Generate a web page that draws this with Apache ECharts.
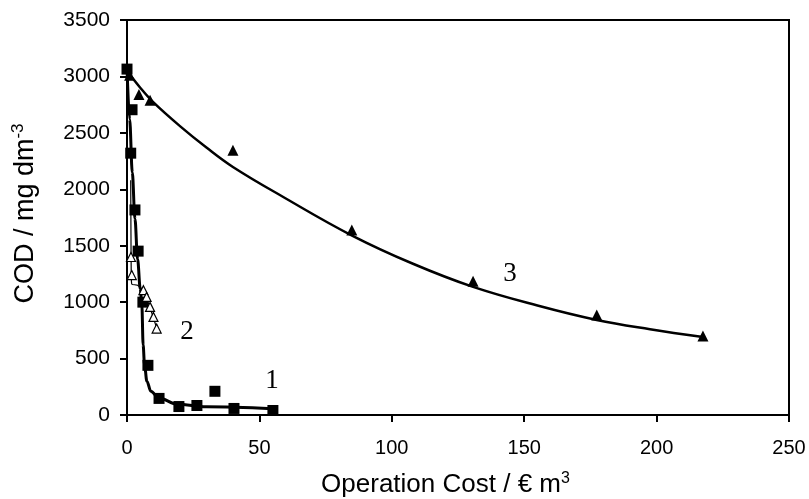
<!DOCTYPE html>
<html>
<head>
<meta charset="utf-8">
<script src="https://cdn.jsdelivr.net/npm/echarts@6/dist/echarts.min.js"></script>
<style>
html,body{margin:0;padding:0;background:#fff;}
#c{width:809px;height:499px;}
</style>
</head>
<body>
<div id="c"></div>
<script>
// Axis settings
const xTicks = [0, 50, 100, 150, 200, 250];
const yTicks = [0, 500, 1000, 1500, 2000, 2500, 3000, 3500];

// Series 1 (filled squares) measured points
const s1Points = [[0, 3065], [1.9, 2705], [1.4, 2320], [3.0, 1817], [4.2, 1452], [6.0, 1000], [7.9, 440], [12.1, 147], [19.6, 75], [26.4, 84], [33.2, 210], [40.4, 58], [55.1, 40]];
// Series 1 fitted curve
const s1Curve = [[0, 3075], [1, 2620], [2, 2150], [3, 1740], [4, 1380], [5, 1120], [5.6, 980], [6.1, 620], [6.6, 450], [7.5, 300], [9, 210], [12, 150], [19, 95], [30, 72], [55, 55]];

// Series 2 (open triangles) measured points
const s2Points = [[1.5, 1400], [1.8, 1240], [6.2, 1106], [7.4, 1046], [8.7, 958], [10.0, 869], [11.2, 766]];
// Series 2 fitted curve
const s2Curve = [[1.4, 2080], [1.5, 1600], [1.6, 1250], [1.8, 1160], [4, 1150], [6.2, 1100], [8.7, 950], [11.2, 770]];

// Series 3 (filled triangles) measured points
const s3Points = [[1, 3010], [4.5, 2840], [8.7, 2790], [40.0, 2345], [84.9, 1640], [130.7, 1185], [177.4, 885], [217.5, 700]];
// Series 3 fitted curve
const s3Curve = [[0, 3050], [5, 2900], [10, 2770], [20, 2560], [30, 2370], [40, 2198], [59, 1932], [85, 1590], [108, 1340], [130.7, 1135], [155, 970], [177.4, 842], [197.5, 760], [217.5, 691]];

// Curve labels
const curveLabels = [[54.8, 300, '1'], [22.7, 740, '2'], [144.6, 1250, '3']];

const chart = echarts.init(document.getElementById('c'));
const FONT = 'Liberation Sans, Arial, sans-serif';
chart.setOption({
  animation: false,
  backgroundColor: '#fff',
  grid: {left: 127, right: 20, top: 20, bottom: 84, outerBoundsMode: 'none', containLabel: false, show: true, borderColor: '#000', borderWidth: 2, backgroundColor: 'transparent'},
  xAxis: {
    type: 'value', min: xTicks[0], max: xTicks[xTicks.length - 1], interval: 50,
    axisLine: {show: true, lineStyle: {color: '#000', width: 2}},
    axisTick: {show: true, inside: false, length: 7, lineStyle: {color: '#000', width: 2}},
    splitLine: {show: false},
    axisLabel: {color: '#000', fontFamily: FONT, fontSize: 20, margin: 23, formatter: v => String(v)},
    name: 'Operation Cost / € m{sup|3}',
    nameLocation: 'middle', nameGap: 56,
    nameTextStyle: {color: '#000', fontFamily: FONT, fontSize: 26, padding: [0, 25, 0, 0],
      rich: {sup: {fontSize: 16, padding: [0, 0, 12, 0], fontFamily: FONT, color: '#000'}}}
  },
  yAxis: {
    type: 'value', min: yTicks[0], max: yTicks[yTicks.length - 1], interval: 500,
    axisLine: {show: true, lineStyle: {color: '#000', width: 2}},
    axisTick: {show: true, inside: false, length: 7, lineStyle: {color: '#000', width: 2}},
    splitLine: {show: false},
    axisLabel: {color: '#000', fontFamily: FONT, fontSize: 21, margin: 17, formatter: v => String(v)},
    name: 'COD / mg dm{sup|-3}',
    nameLocation: 'middle', nameRotate: 90, nameGap: 86,
    nameTextStyle: {color: '#000', fontFamily: FONT, fontSize: 27, padding: [0, 0, 0, 8],
      rich: {sup: {fontSize: 17, padding: [0, 0, 14, 0], fontFamily: FONT, color: '#000'}}}
  },
  series: [
    {type: 'line', data: s1Curve, smooth: 0.35, smoothMonotone: 'x', showSymbol: false, symbol: 'none', lineStyle: {color: '#000', width: 3}, z: 2},
    {type: 'scatter', data: s1Points, symbol: 'rect', symbolSize: 11, itemStyle: {color: '#000', opacity: 1}, z: 3},
    {type: 'line', data: s2Curve, smooth: 0.3, showSymbol: false, symbol: 'none', lineStyle: {color: '#000', width: 1.2}, z: 2},
    {type: 'scatter', data: s2Points, symbol: 'triangle', symbolSize: 9, itemStyle: {color: '#fff', borderColor: '#000', borderWidth: 1.2, opacity: 1}, z: 4},
    {type: 'line', data: s3Curve, smooth: 0.4, showSymbol: false, symbol: 'none', lineStyle: {color: '#000', width: 2.5}, z: 2},
    {type: 'scatter', data: s3Points, symbol: 'triangle', symbolSize: 11, itemStyle: {color: '#000', opacity: 1}, z: 3},
    {type: 'scatter', data: curveLabels.map(d => ({value: [d[0], d[1]], name: d[2]})), symbolSize: 0, itemStyle: {opacity: 1},
      label: {show: true, position: 'inside', formatter: p => p.name, color: '#000', opacity: 1, fontFamily: 'Liberation Serif, Times New Roman, serif', fontSize: 27}, z: 5}
  ]
});
</script>
</body>
</html>
